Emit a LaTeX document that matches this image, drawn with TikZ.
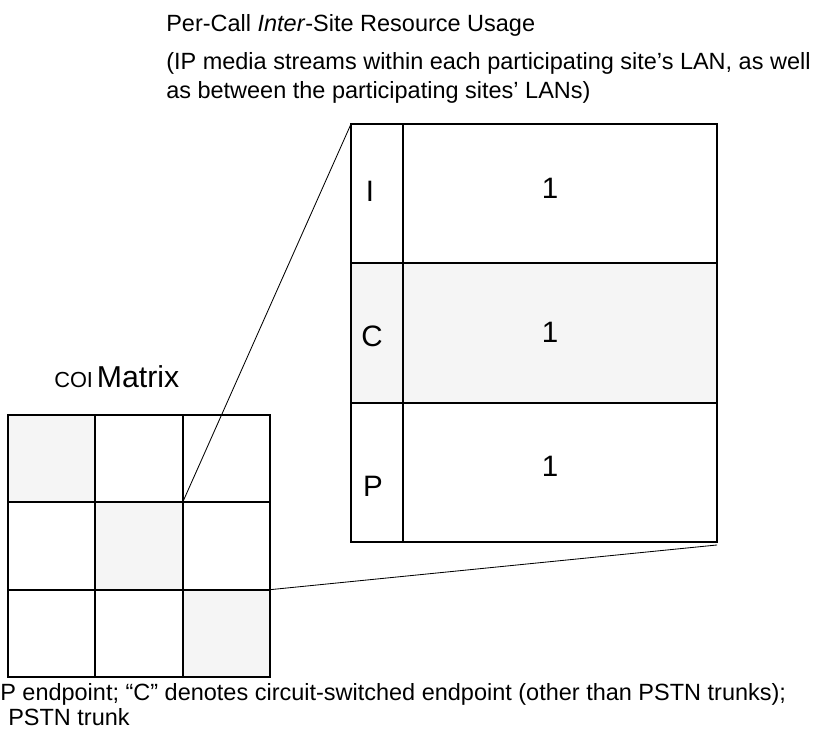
\documentclass[tikz,border=0pt]{standalone}
\usepackage{fontspec}
\setmainfont{Liberation Sans}
\usepackage{xcolor}
\usetikzlibrary{calc,positioning}
\definecolor{GridInk}{HTML}{000000}
\definecolor{DiagFill}{HTML}{F5F5F5}
\tikzset{
  matcell/.style={draw=GridInk,line width=1.5pt,minimum width=2.183cm,minimum height=2.183cm,inner sep=0pt,outer sep=0pt},
  diagcell/.style={matcell,fill=DiagFill},
  tagcell/.style={draw=GridInk,line width=1.5pt,minimum width=1.3cm,minimum height=3.483cm,inner sep=0pt,outer sep=0pt},
  valuecell/.style={tagcell,minimum width=7.85cm},
  zoomline/.style={line width=0.6pt,GridInk},
  headtext/.style={anchor=base west,inner sep=0pt,font=\fontsize{16.7}{20}\selectfont},
  celltext/.style={inner sep=0pt,font=\fontsize{21}{25}\selectfont},
  mattitle/.style={anchor=base west,inner sep=0pt}
}

\begin{document}
\begin{tikzpicture}[x=0.025cm,y=-0.025cm]
  \useasboundingbox (0,0) rectangle (820,732);

  % heading over the expanded cell
  \node[headtext] (head) at (166,31) {Per-Call \textit{Inter}-Site Resource Usage};
  \node[headtext] (headA) at (166,69) {(IP media streams within each participating site’s LAN, as well};
  \node[headtext] (headB) at (166,98) {as between the participating sites’ LANs)};

  % COI matrix
  \node[mattitle] (mattl) at (54,387) {{\fontsize{15.5}{18}\selectfont COI} {\fontsize{21.5}{25}\selectfont Matrix}};
  \node[diagcell] (m11) at (51.7,458.7) {};
  \node[matcell] (m12) at (139,458.7) {};
  \node[matcell] (m13) at (226.3,458.7) {};
  \node[matcell] (m21) at (51.7,546) {};
  \node[diagcell] (m22) at (139,546) {};
  \node[matcell] (m23) at (226.3,546) {};
  \node[matcell] (m31) at (51.7,633.3) {};
  \node[matcell] (m32) at (139,633.3) {};
  \node[diagcell] (m33) at (226.3,633.3) {};

  % expanded cell
  \node[tagcell] (tagI) at (377,193.7) {};
  \node[valuecell] (valI) at (560,193.7) {};
  \node[tagcell,fill=DiagFill] (tagC) at (377,333) {};
  \node[valuecell,fill=DiagFill] (valC) at (560,333) {};
  \node[tagcell] (tagP) at (377,472.3) {};
  \node[valuecell] (valP) at (560,472.3) {};
  \node[celltext] (txtI) at (370,191) {I};
  \node[celltext] (txtC) at (372,336) {C};
  \node[celltext] (txtP) at (373,486) {P};
  \node[celltext] (oneI) at (550,188) {1};
  \node[celltext] (oneC) at (550,332) {1};
  \node[celltext] (oneP) at (550,466) {1};

  \draw[zoomline] (m13.south west) -- (tagI.north west);
  \draw[zoomline] (m23.south east) -- ($(valP.south east)+(0,3)$);

  % legend under the matrix
  \node[headtext] (noteA) at (0,700) {P endpoint; “C” denotes circuit-switched endpoint (other than PSTN trunks);};
  \node[headtext] (noteB) at (8,725) {PSTN trunk};
\end{tikzpicture}
\end{document}
